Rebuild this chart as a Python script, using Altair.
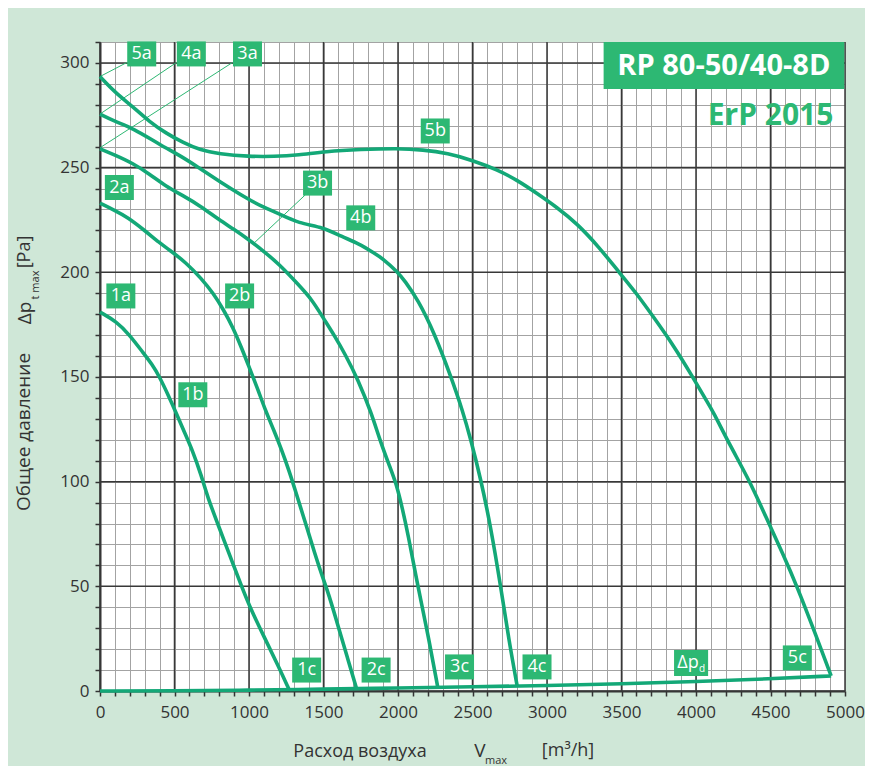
import altair as alt
import pandas as pd

FONT = "Open Sans"
CURVE_COLOR = "#13a877"
BOX_COLOR = "#2db873"
BG = "#cfe7d7"

# ---------------- data ----------------
c1_x = [0, 110, 200, 290, 350, 400, 460, 510, 570, 620, 680, 720, 800, 870, 950, 1000, 1100, 1200, 1270]
c1_y = [181, 176.5, 170, 161.5, 156, 150, 141, 133, 123, 115, 103, 93, 78, 65, 50, 41, 26, 11.5, 0.5]

c2_x = [0, 100, 180, 300, 400, 460, 580, 680, 760, 830, 890, 950, 1010, 1060, 1110, 1170, 1220, 1270, 1310, 1380, 1440, 1500, 1533, 1600, 1660, 1722]
c2_y = [233, 229.5, 226.5, 220, 214, 211, 204.5, 197, 190, 182, 174, 164, 153, 144, 134, 124, 115, 105, 96, 80, 66, 53, 46.7, 30.6, 16, 1.1]

c3_x = [0, 100, 222, 330, 444, 560, 667, 800, 900, 1000, 1100, 1200, 1333, 1422, 1500, 1580, 1644, 1733, 1822, 1878, 1940, 1989, 2030, 2067, 2133, 2200, 2267]
c3_y = [259, 256, 252, 247, 241, 236.5, 232, 225, 220.5, 215.5, 210, 204, 194, 187, 178, 169, 161, 148.6, 132.6, 120, 108, 99, 87, 75, 50, 27.5, 1.7]

c4_x = [0, 100, 222, 400, 556, 667, 800, 1000, 1100, 1200, 1333, 1500, 1622, 1733, 1844, 1889, 2000, 2044, 2133, 2244, 2356, 2433, 2489, 2556, 2622, 2689, 2744, 2800]
c4_y = [275.5, 272, 268.8, 261, 255, 249.7, 243.5, 234.6, 231, 228, 223.4, 221.5, 217, 213.9, 209, 207, 200, 196, 187, 171, 150, 134, 120, 101, 78.5, 50, 24.4, 2.3]

c5_x = [0, 100, 222, 330, 444, 556, 667, 800, 1000, 1167, 1333, 1511, 1750, 2000, 2167, 2333, 2500, 2667, 2800, 2933, 3067, 3200, 3350, 3489, 3600, 3711, 3850, 3978, 4067, 4111, 4230, 4356, 4489, 4580, 4678, 4800, 4907]
c5_y = [293.5, 286, 279, 272, 266.4, 262, 258.5, 256.5, 255.3, 255.3, 256, 257.7, 258.7, 259.2, 258.5, 256.9, 253.5, 249, 244, 237.7, 231, 223.4, 212, 199.5, 190, 179, 165, 150, 139, 134, 117, 101, 80, 66, 50, 27.5, 7.2]

dpd_x = [0, 500, 1000, 1500, 2000, 2500, 3000, 3500, 4000, 4500, 4907]
dpd_y = [0, 0.1, 0.4, 0.9, 1.4, 2.0, 2.6, 3.4, 4.5, 5.8, 7.2]

label_text = ["5a", "4a", "3a", "2a", "1a", "1b", "2b", "3b", "4b", "5b", "1c", "2c", "3c", "4c", "5c"]
label_x = [280, 613, 990, 130, 140, 623, 937, 1460, 1750, 2250, 1387, 1853, 2413, 2933, 4680]
label_y = [304.3, 304.3, 304.3, 240.5, 188.7, 141.5, 188.7, 242.6, 226, 267.5, 10, 10, 11.5, 11.5, 15.8]

dpd_label_x = [3967]
dpd_label_y = [13.4]

leader_id = ["5a", "5a", "4a", "4a", "3a", "3a", "3b", "3b"]
leader_x = [180, 0, 513, 0, 889, 0, 1378, 1033]
leader_y = [300.2, 293.5, 300.2, 275.6, 300.2, 259.5, 237, 213.9]

x_minor = list(range(0, 5001, 100))
y_minor = list(range(0, 311, 10))
x_major = list(range(0, 5001, 500))
y_major = list(range(0, 301, 50))

title_text = "RP 80-50/40-8D"
subtitle_text = "ErP 2015"
title_box_x = [3380]
title_box_x2 = [4995]
title_box_y = [287.6]
title_box_y2 = [310]
title_pos_x = [4187]
title_pos_y = [298.6]
subtitle_pos_x = [4922]
subtitle_pos_y = [274.7]

# ---------------- build tables ----------------
rows = []
for name, xs, ys in [("1", c1_x, c1_y), ("2", c2_x, c2_y), ("3", c3_x, c3_y),
                     ("4", c4_x, c4_y), ("5", c5_x, c5_y), ("d", dpd_x, dpd_y)]:
    for i, (a, b) in enumerate(zip(xs, ys)):
        rows.append({"curve": name, "i": i, "x": a, "y": b})
df_curves = pd.DataFrame(rows)
df_labels = pd.DataFrame({"x": label_x, "y": label_y, "t": label_text})
df_dpd = pd.DataFrame({"x": dpd_label_x, "y": dpd_label_y})
df_leaders = pd.DataFrame({"id": leader_id, "x": leader_x, "y": leader_y})

xscale = alt.Scale(domain=[0, 5000], nice=False, zero=False)
yscale = alt.Scale(domain=[0, 310], nice=False, zero=False)

xaxis = alt.Axis(values=x_minor, labelExpr="datum.value % 500 === 0 ? datum.label : ''",
                 format="d", grid=True, gridColor="#a3a3a3", gridWidth=1, gridOpacity=1,
                 tickColor="#333333", tickSize=5, tickWidth=1.5, domainColor="#333333", domainWidth=2,
                 labelFont=FONT, labelFontSize=17, labelColor="#333333", labelPadding=8,
                 labelOverlap=False, labelFlush=False, title=None)
yaxis = alt.Axis(values=y_minor, labelExpr="datum.value % 50 === 0 ? datum.label : ''",
                 format="d", grid=True, gridColor="#a3a3a3", gridWidth=1, gridOpacity=1,
                 tickColor="#333333", tickSize=5, tickWidth=1.5, domainColor="#333333", domainWidth=2,
                 labelFont=FONT, labelFontSize=17, labelColor="#333333", labelPadding=6,
                 labelOverlap=False, labelFlush=False, title=None)

X = alt.X("x:Q", scale=xscale, axis=xaxis)
Y = alt.Y("y:Q", scale=yscale, axis=yaxis)

curves_layer = alt.Chart(df_curves).mark_line(color=CURVE_COLOR, strokeWidth=3.6, interpolate="basis").encode(
    x=X, y=Y, detail="curve:N", order="i:Q")

vgrid = alt.Chart(pd.DataFrame({"x": x_major})).mark_rule(color="#383838", strokeWidth=1.5).encode(x=X)
hgrid = alt.Chart(pd.DataFrame({"y": y_major})).mark_rule(color="#383838", strokeWidth=1.5).encode(y=Y)

leaders = alt.Chart(df_leaders).mark_line(color=BOX_COLOR, strokeWidth=1).encode(x=X, y=Y, detail="id:N")

box_shape = "M-1.16,-1L1.16,-1L1.16,1L-1.16,1Z"
boxes = alt.Chart(df_labels).mark_point(shape=box_shape, filled=True, size=625, opacity=1,
                                        color=BOX_COLOR).encode(x=X, y=Y)
box_text = alt.Chart(df_labels).mark_text(font=FONT, fontSize=18, color="white", baseline="middle",
                                          align="center", dy=0).encode(x=X, y=Y, text="t:N")

dpd_box = alt.Chart(df_dpd).mark_point(shape="M-1.31,-1L1.31,-1L1.31,1L-1.31,1Z", filled=True,
                                       size=676, opacity=1, color=BOX_COLOR).encode(x=X, y=Y)
dpd_text = alt.Chart(df_dpd).mark_text(font=FONT, fontSize=18, color="white", baseline="middle",
                                       align="center", dx=-3, text="Δp").encode(x=X, y=Y)
dpd_sub = alt.Chart(df_dpd).mark_text(font=FONT, fontSize=10, color="white", baseline="middle",
                                      align="center", dx=11, dy=6, text="d").encode(x=X, y=Y)

df_title = pd.DataFrame({"x": title_box_x, "x2": title_box_x2, "y": title_box_y, "y2": title_box_y2})
title_box = alt.Chart(df_title).mark_rect(color=BOX_COLOR, opacity=1).encode(
    x=X, x2="x2:Q", y=Y, y2="y2:Q")
title_mark = alt.Chart(pd.DataFrame({"x": title_pos_x, "y": title_pos_y})).mark_text(
    font=FONT, fontSize=29, fontWeight="bold", color="white", align="center", baseline="middle",
    text=title_text).encode(x=X, y=Y)
subtitle_mark = alt.Chart(pd.DataFrame({"x": subtitle_pos_x, "y": subtitle_pos_y})).mark_text(
    font=FONT, fontSize=30, fontWeight="bold", color=BOX_COLOR, align="right", baseline="middle",
    text=subtitle_text).encode(x=X, y=Y)

one = pd.DataFrame({"a": [0]})


def ptext(txt, px, py, size, angle=0, align="center"):
    kw = dict(font=FONT, fontSize=size, color="#333333", align=align, baseline="middle", text=txt)
    if angle:
        kw["angle"] = angle
    return alt.Chart(one).mark_text(**kw).encode(x=alt.value(px), y=alt.value(py))


axis_titles = [
    ptext("Общее давление", -76, 390, 19, 270),
    ptext("Δp", -75, 271, 19, 270),
    ptext("t max", -64, 243, 11, 270),
    ptext("[Pa]", -75, 210, 18, 270),
    ptext("Расход воздуха", 260, 710, 18),
    ptext("V", 380, 709, 19),
    ptext("max", 396, 719, 11),
    ptext("[m³/h]", 468, 709, 18),
]

chart = alt.layer(
    vgrid, hgrid, leaders, curves_layer, boxes, box_text, dpd_box, dpd_text, dpd_sub,
    title_box, title_mark, subtitle_mark, *axis_titles
).properties(
    width=745, height=649,
    padding={"left": 92, "top": 34, "right": 20, "bottom": 75},
    autosize=alt.AutoSizeParams(type="none"),
    background=BG,
).configure_view(stroke=None, fill="white")

chart.save("out.html", embed_options={"renderer": "svg", "actions": False})
